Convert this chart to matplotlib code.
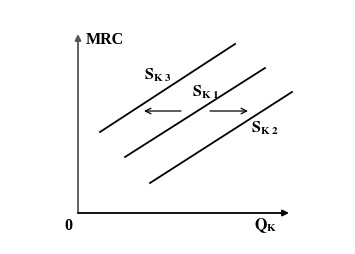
import matplotlib
matplotlib.use("Agg")
import matplotlib.pyplot as plt

# supply curves: label, start (Q, MRC), end (Q, MRC)
curve_labels = [r"$\mathbf{S_{K\ 3}}$", r"$\mathbf{S_{K\ 1}}$", r"$\mathbf{S_{K\ 2}}$"]
q_start = [22, 47, 72]
mrc_start = [81, 56, 30]
q_end = [157, 187, 214]
mrc_end = [169, 145, 121]
label_q = [66, 114, 173]
label_mrc = [138, 121, 85]

plt.rcParams["font.family"] = ["Liberation Serif", "DejaVu Serif"]
plt.rcParams["font.weight"] = "bold"
plt.rcParams["mathtext.fontset"] = "stix"

fig = plt.figure(figsize=(3.55, 2.54), dpi=100)
ax = fig.add_axes([0, 0, 1, 1])
ax.set_xlim(-78, 277)
ax.set_ylim(-41, 213)
ax.axis("off")

# axes with arrowheads
ax.annotate("", xy=(0, 179), xytext=(0, 0),
            arrowprops=dict(arrowstyle="-|>", color="#555555", lw=1.3,
                            mutation_scale=9, shrinkA=0, shrinkB=0))
ax.annotate("", xy=(211, 0), xytext=(0, 0),
            arrowprops=dict(arrowstyle="-|>", color="black", lw=1.3,
                            mutation_scale=9, shrinkA=0, shrinkB=0))

for i in range(len(curve_labels)):
    ax.plot([q_start[i], q_end[i]], [mrc_start[i], mrc_end[i]], color="black", lw=1.3)
    ax.text(label_q[i], label_mrc[i], curve_labels[i], fontsize=11.5,
            ha="left", va="center")

# shift arrows
ax.annotate("", xy=(66, 102), xytext=(103, 102),
            arrowprops=dict(arrowstyle="->", color="black", lw=0.9,
                            shrinkA=0, shrinkB=0))
ax.annotate("", xy=(170, 102), xytext=(132, 102),
            arrowprops=dict(arrowstyle="->", color="black", lw=0.9,
                            shrinkA=0, shrinkB=0))

ax.text(8, 173, "MRC", fontsize=11.5, fontweight="bold", ha="left", va="center")
ax.text(-10, -13, "0", fontsize=11.5, fontweight="bold", ha="center", va="center")
ax.text(176, -13, r"$\mathbf{Q_K}$", fontsize=11.5, ha="left", va="center")

fig.savefig("out.png", dpi=100, facecolor="white")
